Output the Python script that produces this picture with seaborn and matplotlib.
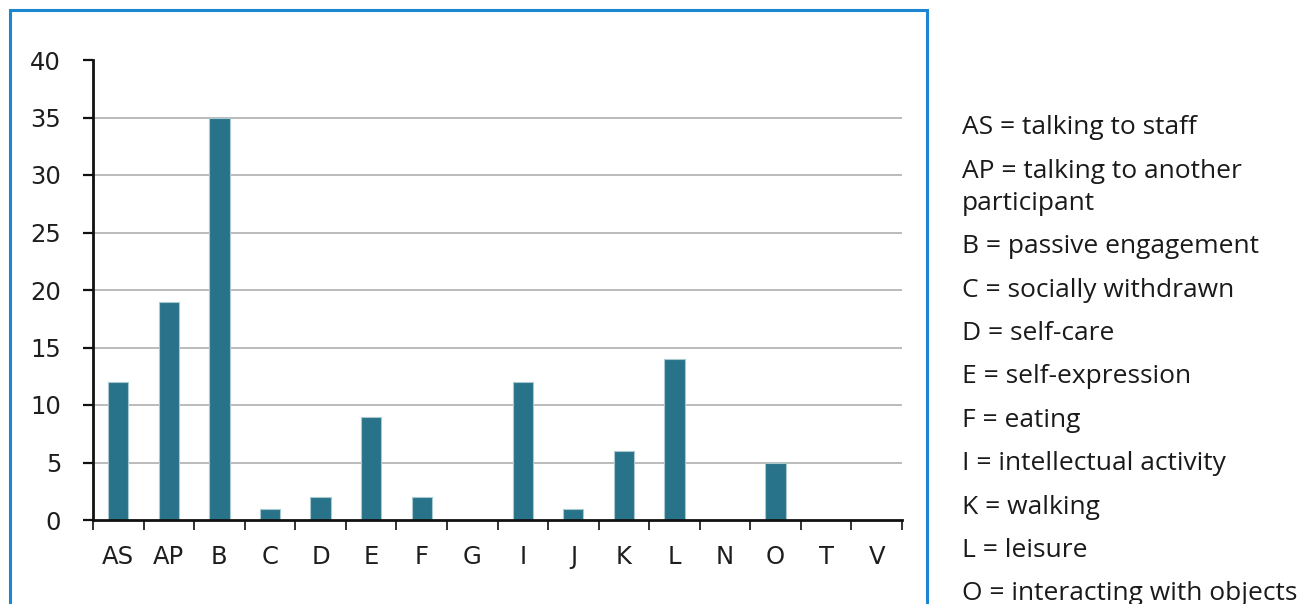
import matplotlib
matplotlib.use("Agg")
import matplotlib.pyplot as plt
import matplotlib.patches as mpatches
from matplotlib.ticker import FixedLocator
import seaborn as sns
import pandas as pd

categories = ["AS", "AP", "B", "C", "D", "E", "F", "G", "I", "J", "K", "L", "N", "O", "T", "V"]
values = [12, 19, 35, 1, 2, 9, 2, 0, 12, 1, 6, 14, 0, 5, 0, 0]
y_ticks = [0, 5, 10, 15, 20, 25, 30, 35, 40]
legend_entries = [
    "AS = talking to staff",
    "AP = talking to another\nparticipant",
    "B = passive engagement",
    "C = socially withdrawn",
    "D = self-care",
    "E = self-expression",
    "F = eating",
    "I = intellectual activity",
    "K = walking",
    "L = leisure",
    "O = interacting with objects",
]

sns.set_theme(style="white")
plt.rcParams["font.family"] = ["DejaVu Sans"]

W, H = 1309, 604
fig = plt.figure(figsize=(W / 100, H / 100), dpi=100)
fig.patch.set_facecolor("white")

# blue frame around the chart
frame = mpatches.Rectangle((10 / W, -0.05), (927 - 10) / W, 1.05 - 10 / H,
                           transform=fig.transFigure, fill=False,
                           edgecolor="#1c86d0", linewidth=2.2, clip_on=False)
fig.patches.append(frame)

ax = fig.add_axes([93 / W, 1 - 520 / H, (902 - 93) / W, (520 - 60) / H])
df = pd.DataFrame({"cat": categories, "val": values})
sns.barplot(data=df, x="cat", y="val", ax=ax, color="#28738a", saturation=1,
            width=0.40, edgecolor="#a9c9d1", linewidth=0.8, zorder=3)

ax.set_xlim(-0.5, len(categories) - 0.5)
ax.set_ylim(0, 40)
ax.set_yticks(y_ticks)
ax.set_yticklabels([str(t) for t in y_ticks], fontsize=17.5, color="#1e1e1e")
ax.tick_params(axis="y", which="major", direction="out", length=7, width=1.6,
               color="#111111", pad=16, left=True)
ax.set_xticks(range(len(categories)))
ax.set_xticklabels(categories, fontsize=17.5, color="#1e1e1e")
ax.tick_params(axis="x", which="major", length=0, pad=18)
ax.xaxis.set_minor_locator(FixedLocator([i - 0.5 for i in range(len(categories) + 1)]))
ax.tick_params(axis="x", which="minor", direction="out", length=7, width=1.2,
               color="#111111", bottom=True)
ax.set_xlabel("")
ax.set_ylabel("")

for t in y_ticks[1:-1]:
    ax.axhline(t, color="#a8a8a8", linewidth=1.1, zorder=1)

for side in ["top", "right"]:
    ax.spines[side].set_visible(False)
for side in ["left", "bottom"]:
    ax.spines[side].set_visible(True)
    ax.spines[side].set_color("#111111")
    ax.spines[side].set_linewidth(2)
ax.spines["bottom"].set_zorder(5)

# legend text on the right
legend_font = dict(fontsize=19, color="#1a1a1a", va="center", ha="left",
                   family=["Open Sans", "DejaVu Sans"])
y = 128
for entry in legend_entries:
    lines = entry.split("\n")
    for k, line in enumerate(lines):
        if k > 0:
            y += 32
        fig.text(962 / W, 1 - y / H, line, **legend_font)
    y += 43.4

fig.savefig("out.png", dpi=100, facecolor="white")
